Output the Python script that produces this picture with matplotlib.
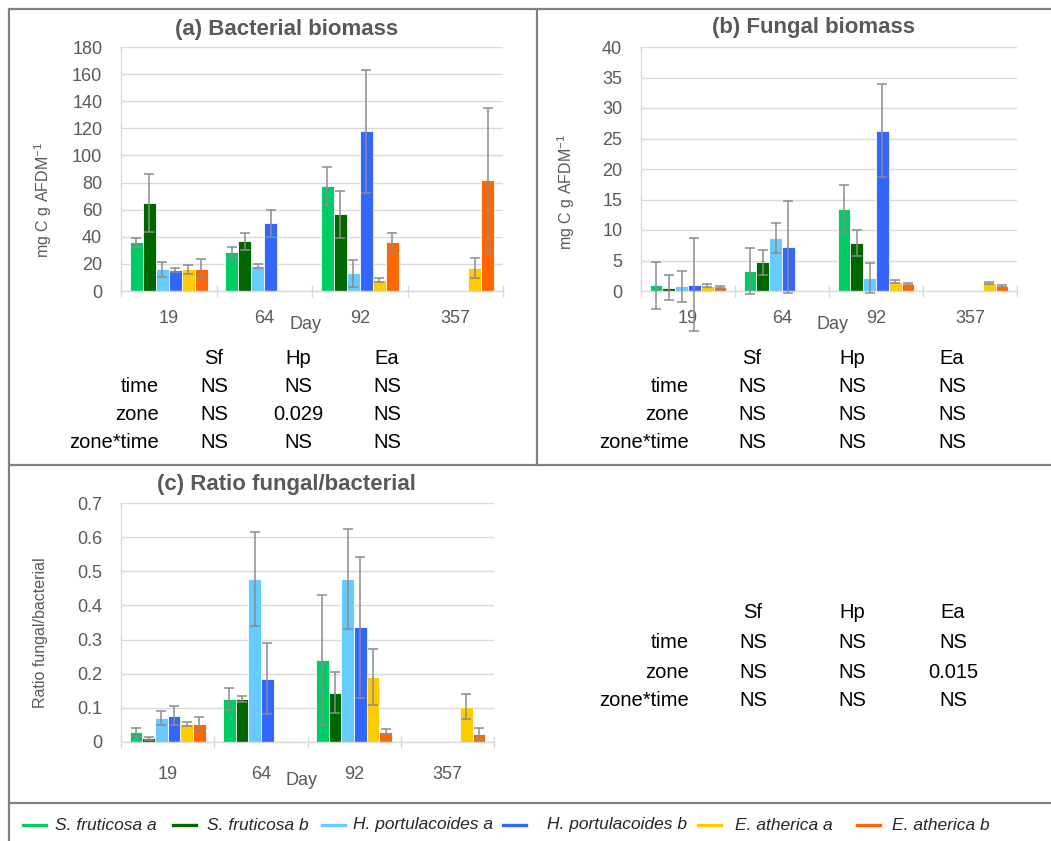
import numpy as np
import matplotlib
matplotlib.use('Agg')
import matplotlib.pyplot as plt
from matplotlib.lines import Line2D
from matplotlib.ticker import FuncFormatter

plt.rcParams['font.family'] = ['Liberation Sans', 'DejaVu Sans']

# data
days = ['19', '64', '92', '357']
series = ['S. fruticosa a', 'S. fruticosa b', 'H. portulacoides a',
          'H. portulacoides b', 'E. atherica a', 'E. atherica b']
colors = ['#00CC66', '#006600', '#66CCFF', '#3366FF', '#FFCC00', '#FF6600']
nan = np.nan

# (a) bacterial biomass, one row per series, one column per day
bact = [[36.1, 28.5, 77.5, nan],
        [64.9, 36.6, 56.6, nan],
        [16.0, 18.4, 13.0, nan],
        [15.5, 49.9, 117.8, nan],
        [16.0, nan, 8.1, 17.2],
        [16.5, nan, 35.9, 81.9]]
bact_err = [[3.3, 4.2, 13.7, nan],
            [21.5, 6.0, 17.4, nan],
            [5.4, 1.3, 10.0, nan],
            [1.7, 9.8, 45.6, nan],
            [3.5, nan, 1.8, 7.4],
            [7.0, nan, 7.2, 53.0]]

# (b) fungal biomass
fung = [[0.93, 3.28, 13.5, nan],
        [0.55, 4.7, 7.87, nan],
        [0.77, 8.74, 2.13, nan],
        [1.04, 7.2, 26.3, nan],
        [0.85, nan, 1.48, 1.3],
        [0.66, nan, 1.15, 0.82]]
fung_err = [[3.9, 3.85, 3.9, nan],
            [2.1, 2.1, 2.1, nan],
            [2.5, 2.45, 2.5, nan],
            [7.6, 7.6, 7.6, nan],
            [0.25, nan, 0.25, 0.2],
            [0.2, nan, 0.15, 0.15]]

# (c) ratio fungal/bacterial
ratio = [[0.029, 0.125, 0.24, nan],
         [0.011, 0.126, 0.144, nan],
         [0.071, 0.478, 0.477, nan],
         [0.077, 0.185, 0.336, nan],
         [0.053, nan, 0.19, 0.103],
         [0.054, nan, 0.030, 0.024]]
ratio_err = [[0.013, 0.032, 0.191, nan],
             [0.004, 0.009, 0.06, nan],
             [0.02, 0.138, 0.147, nan],
             [0.028, 0.104, 0.206, nan],
             [0.007, nan, 0.083, 0.037],
             [0.019, nan, 0.007, 0.016]]

# statistics tables
stat_cols = ['Sf', 'Hp', 'Ea']
stat_rows = ['time', 'zone', 'zone*time']
stats_a = [['NS', 'NS', 'NS'], ['NS', '0.029', 'NS'], ['NS', 'NS', 'NS']]
stats_b = [['NS', 'NS', 'NS'], ['NS', 'NS', 'NS'], ['NS', 'NS', 'NS']]
stats_c = [['NS', 'NS', 'NS'], ['NS', 'NS', '0.015'], ['NS', 'NS', 'NS']]

W, H = 1051, 841
GREY = '#595959'
GRID = '#D9D9D9'
FRAME = '#808080'


def fx(x):
    return x / W


def fy(y):
    return 1 - y / H


fig = plt.figure(figsize=(W / 100, H / 100), dpi=100)


def axes_px(left, right, top, bottom):
    return fig.add_axes([fx(left), fy(bottom), fx(right - left), (bottom - top) / H])


def draw_panel(ax, values, errors, ymax, ystep, title, ylabel, ylab_pos, day_pos, title_y, xpad):
    x = np.arange(len(days))
    bw = 0.136
    for j in range(len(series)):
        pos = x + (j - 2.5) * bw
        ax.bar(pos, values[j], bw, color=colors[j], edgecolor='white', linewidth=0.6, zorder=2)
        eb = ax.errorbar(pos, values[j], yerr=errors[j], fmt='none', ecolor='#8C8C8C',
                         elinewidth=1.1, capsize=3.8, capthick=1.1, zorder=3)
        for art in eb.get_children():
            art.set_clip_on(False)

    ax.set_xlim(-0.5, len(days) - 0.5)
    ax.set_ylim(0, ymax)
    n = int(round(ymax / ystep))
    ax.set_yticks([round(i * ystep, 3) for i in range(n + 1)])
    ax.yaxis.set_major_formatter(FuncFormatter(lambda v, p: '%g' % v))
    ax.yaxis.grid(True, color=GRID, linewidth=1.0)
    ax.set_axisbelow(True)

    ax.set_xticks(np.arange(len(days) + 1) - 0.5)
    ax.set_xticklabels([])
    ax.set_xticks(x, minor=True)
    ax.set_xticklabels(days, minor=True)
    ax.tick_params(axis='x', which='major', direction='inout', length=9, width=1, color=GRID)
    ax.tick_params(axis='x', which='minor', length=0, pad=xpad, labelsize=13, labelcolor=GREY)
    ax.tick_params(axis='y', length=0, pad=13.5, labelsize=13, labelcolor=GREY)

    for s in ['top', 'right']:
        ax.spines[s].set_visible(False)
    for s in ['left', 'bottom']:
        ax.spines[s].set_color(GRID)
        ax.spines[s].set_linewidth(1.0)

    ax.text(ylab_pos[0], ylab_pos[1], ylabel, transform=ax.transAxes, rotation=90,
            ha='center', va='center', fontsize=11.5, color=GREY)
    ax.text(day_pos[0], day_pos[1], 'Day', transform=ax.transAxes,
            ha='center', va='center', fontsize=13, color=GREY)
    fig.text(fx(title[1]), fy(title_y), title[0], ha='center', va='center',
             fontsize=16, fontweight='bold', color=GREY)


def draw_table(stats, label_x, col_x, row_y):
    for k, c in enumerate(stat_cols):
        fig.text(fx(col_x[k]), fy(row_y[0]), c, ha='center', va='center', fontsize=14.5)
    for i, r in enumerate(stat_rows):
        fig.text(fx(label_x), fy(row_y[i + 1]), r, ha='right', va='center', fontsize=14.5)
        for k in range(len(stat_cols)):
            fig.text(fx(col_x[k]), fy(row_y[i + 1]), stats[i][k], ha='center', va='center',
                     fontsize=14.5)


ylab = 'mg C g AFDM$^{\\mathregular{-1}}$'

ax_a = axes_px(121, 503, 47, 291)
draw_panel(ax_a, bact, bact_err, 180, 20, ('(a) Bacterial biomass', 287), ylab,
           (-0.205, 0.373), (0.482, -0.139), 29, 14)

ax_b = axes_px(641, 1017, 47, 291)
draw_panel(ax_b, fung, fung_err, 40, 5, ('(b) Fungal biomass', 814), ylab,
           (-0.199, 0.405), (0.509, -0.139), 28, 14)

ax_c = axes_px(121, 494, 503, 742)
draw_panel(ax_c, ratio, ratio_err, 0.7, 0.1, ('(c) Ratio fungal/bacterial', 286),
           'Ratio fungal/bacterial', (-0.217, 0.456), (0.485, -0.162), 485, 17)

draw_table(stats_a, 159, [214, 298, 387], [358, 387, 415, 443])
draw_table(stats_b, 689, [752, 852, 952], [358, 387, 415, 443])
draw_table(stats_c, 689, [753, 852, 953], [613, 643, 672, 701])

# frame lines
frame = [((9, 1051), (9, 9)), ((9, 9), (9, 841)), ((537, 537), (9, 465)),
         ((9, 1051), (465, 465)), ((9, 1051), (803, 803))]
for xs, ys in frame:
    fig.add_artist(Line2D([fx(v) for v in xs], [fy(v) for v in ys], color=FRAME,
                          linewidth=1.6, transform=fig.transFigure))

# legend
leg_line_x = [23, 173, 322, 503, 698, 857]
leg_text_x = [55, 207, 353, 547, 735, 892]
leg_y = 825
for j in range(len(series)):
    fig.add_artist(Line2D([fx(leg_line_x[j]), fx(leg_line_x[j] + 23)], [fy(leg_y), fy(leg_y)],
                          color=colors[j], linewidth=2.4, transform=fig.transFigure))
    fig.text(fx(leg_text_x[j]), fy(leg_y), series[j], ha='left', va='center',
             fontsize=12.5, style='italic', color='#262626')

fig.savefig('out.png', dpi=100)
